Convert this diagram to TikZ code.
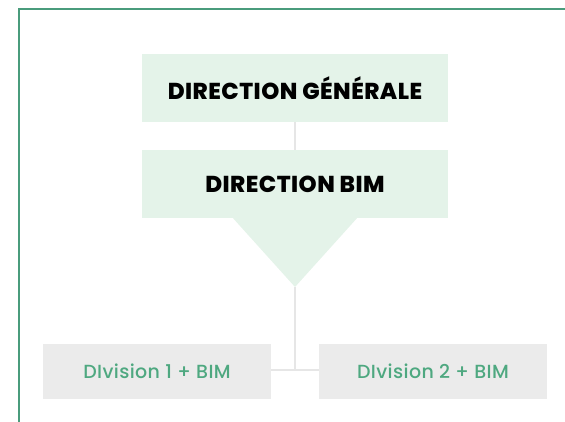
\documentclass[tikz,border=0pt]{standalone}
\usepackage{fontspec}
\newfontfamily\headfont{Poppins}[UprightFont=* ExtraBold, LetterSpace=2]
\newfontfamily\divfont{Poppins}[UprightFont=* Medium, LetterSpace=2]
\definecolor{framegreen}{RGB}{74,156,124}
\definecolor{palegreen}{RGB}{228,243,233}
\definecolor{palegrey}{RGB}{235,235,235}
\definecolor{textgreen}{RGB}{78,168,128}
\definecolor{linkgrey}{RGB}{230,230,230}
\tikzset{
  x=1pt, y=1pt,
  headbox/.style={fill=palegreen, minimum width=306pt, minimum height=68pt,
    inner sep=0pt, font=\headfont\fontsize{23}{26}\selectfont, text=black},
  divbox/.style={fill=palegrey, minimum width=228pt, minimum height=55pt,
    inner sep=0pt, font=\divfont\fontsize{19}{22}\selectfont, text=textgreen},
  link/.style={draw=linkgrey, line width=2pt},
  frame/.style={draw=framegreen, line width=1.3pt}
}
\begin{document}
\begin{tikzpicture}
\useasboundingbox (0,0) rectangle (565,422);
% outer frame: top and left edges only
\draw[frame] (565,413) -- (19,413) -- (19,0);

% boxes
\node[headbox] (gen) at (295,334) {DIRECTION GÉNÉRALE};
\node[headbox] (bim) at (295,238) {DIRECTION BIM};
\node[divbox] (div1) at (157,50.5) {DIvision 1 + BIM};
\node[divbox] (div2) at (433,50.5) {DIvision 2 + BIM};

% pointer under the BIM box
\coordinate (apex) at (295,135);
\coordinate (junction) at (295,52);
\fill[palegreen] ([xshift=-62pt]bim.south) -- ([xshift=62pt]bim.south) -- (apex) -- cycle;

% connectors
\draw[link] (gen.south) -- (bim.north);
\draw[link] (apex) -- (junction);
\draw[link] (div1.east |- junction) -- (div2.west |- junction);
\end{tikzpicture}
\end{document}
